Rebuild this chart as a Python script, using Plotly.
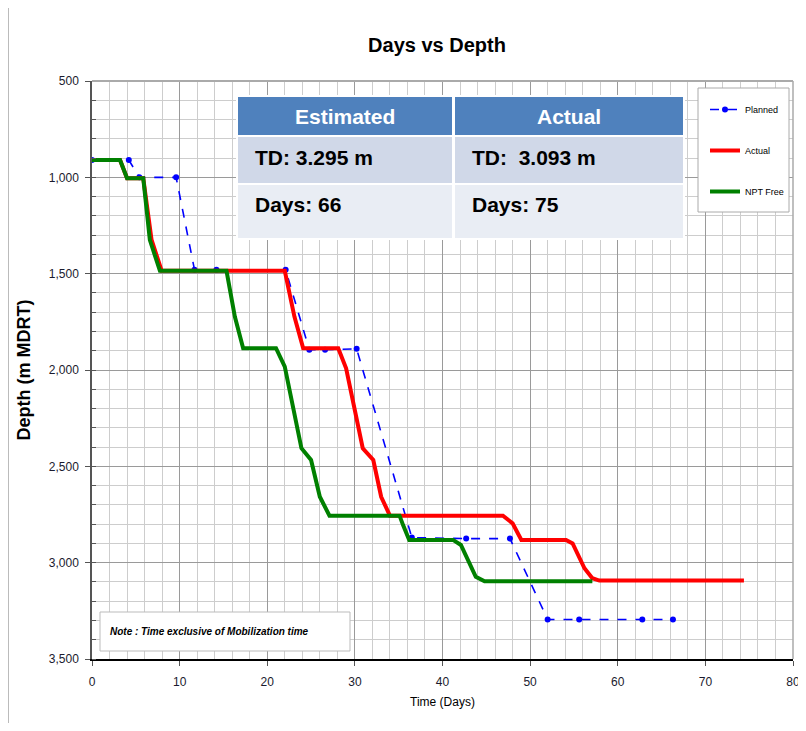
import plotly.graph_objects as go

# ---- data ----
planned_days = [0, 4.2, 5.4, 9.6, 11.7, 14.2, 22.1, 24.8, 26.6, 30.2, 36.5, 42.7, 47.7, 52.0, 55.6, 62.8, 66.3]
planned_depth = [910, 910, 1000, 1000, 1480, 1480, 1480, 1895, 1895, 1890, 2870, 2875, 2875, 3295, 3295, 3295, 3295]

actual_days = [0, 3.2, 4.0, 5.85, 6.8, 7.95, 22.0, 23.1, 24.1, 28.1, 29.0, 30.9, 32.1, 33.0, 34.0,
               46.9, 48.0, 49.0, 54.1, 54.85, 56.2, 57.1, 57.9, 74.4]
actual_depth = [910, 910, 1005, 1005, 1325, 1485, 1485, 1723, 1887, 1887, 1991, 2406, 2467, 2658, 2756,
                2756, 2796, 2882, 2882, 2900, 3029, 3081, 3093, 3093]

npt_days = [0, 3.2, 4.0, 5.85, 6.6, 7.75, 15.35, 16.3, 17.25, 21.0, 22.0, 23.9, 25.0, 26.0, 27.1,
            35.1, 35.5, 36.2, 41.2, 42.1, 43.8, 44.8, 57.1]
npt_depth = [910, 910, 1005, 1005, 1325, 1485, 1485, 1723, 1887, 1887, 1983, 2406, 2467, 2658, 2756,
             2756, 2805, 2882, 2882, 2908, 3073, 3097, 3097]

table_header = ["Estimated", "Actual"]
table_row1 = ["TD: 3.295 m", "TD:  3.093 m"]
table_row2 = ["Days: 66", "Days: 75"]
note_text = "Note : Time exclusive of Mobilization time"

FONT = "Liberation Sans, Arial, sans-serif"

fig = go.Figure()
fig.add_trace(go.Scatter(x=planned_days, y=planned_depth, name="Planned", mode="lines+markers",
                         line=dict(color="#0000FF", width=1.6, dash="dash"),
                         marker=dict(color="#0000FF", size=6), legendgroup="a"))
fig.add_trace(go.Scatter(x=actual_days, y=actual_depth, name="Actual", mode="lines",
                         line=dict(color="#FF0000", width=4), legendgroup="b"))
fig.add_trace(go.Scatter(x=npt_days, y=npt_depth, name="NPT Free", mode="lines",
                         line=dict(color="#008000", width=4), legendgroup="c"))

# the page places the figure 8px from the top-left corner
OFF = 8
W, H = 798, 715
PX0, PX1, PY0, PY1 = 92, 793, 81, 659   # plot area in page pixels
L, R, T, B = PX0 - OFF, OFF + W - PX1, PY0 - OFF, OFF + H - PY1


def px(x):
    return (x - PX0) / (PX1 - PX0)


def py(y):
    return (PY1 - y) / (PY1 - PY0)


shapes = []
annotations = []

# table
hdr_col = "#4F81BD"
r1_col = "#D0D8E8"
r2_col = "#E9EDF4"
cols = [(238, 452), (455, 683)]
rows = [(97, 135, hdr_col), (137, 183, r1_col), (185, 238, r2_col)]
shapes.append(dict(type="rect", xref="paper", yref="paper", x0=px(236), x1=px(685), y0=py(240), y1=py(95),
                   fillcolor="white", line=dict(width=0), layer="above"))
for (y0, y1, c) in rows:
    for (x0, x1) in cols:
        shapes.append(dict(type="rect", xref="paper", yref="paper", x0=px(x0), x1=px(x1), y0=py(y1), y1=py(y0),
                           fillcolor=c, line=dict(width=0), layer="above"))
for i, (x0, x1) in enumerate(cols):
    annotations.append(dict(xref="paper", yref="paper", x=px((x0 + x1) / 2), y=py(116),
                            text="<b>" + table_header[i] + "</b>",
                            showarrow=False, font=dict(family=FONT, size=21, color="white"),
                            xanchor="center", yanchor="middle"))
    annotations.append(dict(xref="paper", yref="paper", x=px(x0 + 15), y=py(157),
                            text="<b>" + table_row1[i] + "</b>",
                            showarrow=False, font=dict(family=FONT, size=21, color="black"),
                            xanchor="left", yanchor="middle"))
    annotations.append(dict(xref="paper", yref="paper", x=px(x0 + 15), y=py(204),
                            text="<b>" + table_row2[i] + "</b>",
                            showarrow=False, font=dict(family=FONT, size=21, color="black"),
                            xanchor="left", yanchor="middle"))

# note box
shapes.append(dict(type="rect", xref="paper", yref="paper", x0=px(100), x1=px(350), y0=py(651), y1=py(612),
                   fillcolor="white", line=dict(color="#BBBBBB", width=1), layer="above"))
annotations.append(dict(xref="paper", yref="paper", x=px(108), y=py(631), text="<b><i>" + note_text + "</i></b>",
                        showarrow=False, font=dict(family=FONT, size=10, color="black"),
                        xanchor="left", yanchor="middle"))

# legend box
shapes.append(dict(type="rect", xref="paper", yref="paper", x0=px(698), x1=px(789), y0=py(212), y1=py(88),
                   fillcolor="white", line=dict(color="#AAAAAA", width=1), layer="above"))

# plot frame (top / right) and outer page line on the left
shapes.append(dict(type="line", xref="paper", yref="paper", x0=0, x1=1, y0=1, y1=1,
                   line=dict(color="#AAAAAA", width=2)))
shapes.append(dict(type="line", xref="paper", yref="paper", x0=1, x1=1, y0=0, y1=1,
                   line=dict(color="#AAAAAA", width=1.5)))
shapes.append(dict(type="line", xref="paper", yref="paper", x0=px(8.5), x1=px(8.5), y0=py(723), y1=py(8),
                   line=dict(color="#BBBBBB", width=1)))

fig.update_layout(
    width=W, height=H,
    margin=dict(l=L, r=R, t=T, b=B, autoexpand=False),
    paper_bgcolor="white", plot_bgcolor="white",
    title=dict(text="<b>Days vs Depth</b>", x=(437 - OFF) / W, xanchor="center",
               y=1 - (45 - OFF) / H, yanchor="middle",
               font=dict(family=FONT, size=20, color="black")),
    shapes=shapes, annotations=annotations,
    legend=dict(x=px(705), y=py(95), xanchor="left", yanchor="top", bgcolor="rgba(0,0,0,0)",
                borderwidth=0, tracegroupgap=22,
                font=dict(family=FONT, size=9, color="black"), itemwidth=30),
    showlegend=True,
)
fig.update_xaxes(range=[0, 80], dtick=10, tick0=0, showgrid=True, gridcolor="#9A9A9A", gridwidth=1,
                 minor=dict(dtick=2, showgrid=True, gridcolor="#CDCDCD", gridwidth=1),
                 showline=True, linecolor="black", linewidth=2, mirror=False,
                 ticks="outside", ticklen=5, tickcolor="#555555", ticklabelstandoff=6,
                 tickfont=dict(family=FONT, size=12, color="#1a1a2e"),
                 title=dict(text="Time (Days)", font=dict(family=FONT, size=12, color="black"), standoff=9),
                 zeroline=False, automargin=False)
fig.update_yaxes(range=[3500, 500], dtick=500, tick0=500, tickformat=",", showgrid=True, gridcolor="#9A9A9A",
                 minor=dict(dtick=100, showgrid=True, gridcolor="#CDCDCD", gridwidth=1,
                            ticks="inside", ticklen=4, tickcolor="#555555"),
                 showline=True, linecolor="#555555", linewidth=1.5, mirror=False,
                 ticks="outside", ticklen=5, tickcolor="#555555", ticklabelstandoff=4,
                 tickfont=dict(family=FONT, size=12, color="#1a1a2e"),
                 title=dict(text="<b>Depth (m MDRT)</b>", font=dict(family=FONT, size=18, color="black"),
                            standoff=14),
                 zeroline=False, automargin=False)

fig.write_html("out.html")
